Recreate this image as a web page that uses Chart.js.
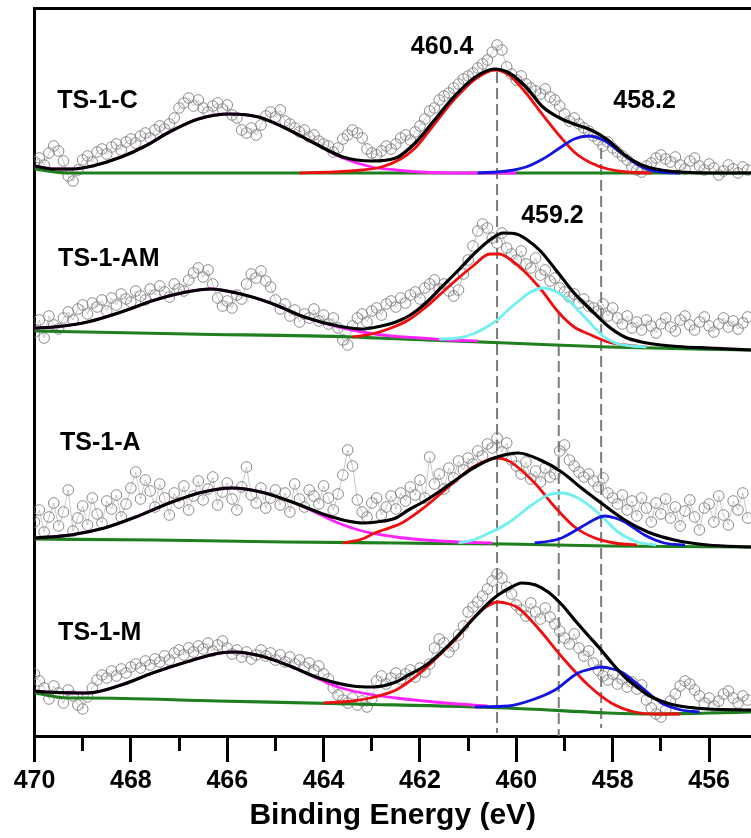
<!DOCTYPE html>
<html><head><meta charset="utf-8">
<script src="https://cdn.jsdelivr.net/npm/chart.js@4.4.1/dist/chart.umd.min.js"></script>
<style>html,body{margin:0;padding:0;background:#fff}</style>
</head><body><canvas id="c" width="751" height="838"></canvas>
<script>
// ---------- data ----------
const energies = [
470.0,469.9,469.8,469.7,469.6,469.5,469.4,469.3,469.2,469.1,
469.0,468.9,468.8,468.7,468.6,468.5,468.4,468.3,468.2,468.1,
468.0,467.9,467.8,467.7,467.6,467.5,467.4,467.3,467.2,467.1,
467.0,466.9,466.8,466.7,466.6,466.5,466.4,466.3,466.2,466.1,
466.0,465.9,465.8,465.7,465.6,465.5,465.4,465.3,465.2,465.1,
465.0,464.9,464.8,464.7,464.6,464.5,464.4,464.3,464.2,464.1,
464.0,463.9,463.8,463.7,463.6,463.5,463.4,463.3,463.2,463.1,
463.0,462.9,462.8,462.7,462.6,462.5,462.4,462.3,462.2,462.1,
462.0,461.9,461.8,461.7,461.6,461.5,461.4,461.3,461.2,461.1,
461.0,460.9,460.8,460.7,460.6,460.5,460.4,460.3,460.2,460.1,
460.0,459.9,459.8,459.7,459.6,459.5,459.4,459.3,459.2,459.1,
459.0,458.9,458.8,458.7,458.6,458.5,458.4,458.3,458.2,458.1,
458.0,457.9,457.8,457.7,457.6,457.5,457.4,457.3,457.2,457.1,
457.0,456.9,456.8,456.7,456.6,456.5,456.4,456.3,456.2,456.1,
456.0,455.9,455.8,455.7,455.6,455.5,455.4,455.3,455.2];

const ts1C_counts = [
574,578,571,583,590,585,575,560,555,566,
576,580,574,584,587,582,589,592,586,594,
597,593,600,603,598,606,610,607,612,618,
628,633,638,630,636,628,624,630,633,627,
631,621,618,606,603,608,601,611,620,624,
619,626,615,612,608,604,606,599,601,595,
592,590,584,588,597,601,606,603,598,587,
583,581,585,590,587,592,598,601,596,604,
610,617,625,628,636,640,643,648,652,657,
660,663,668,672,676,684,691,686,669,662,
656,660,652,648,645,642,647,639,636,630,
622,615,618,612,608,605,600,596,590,594,
588,584,580,576,569,566,564,570,573,578,
581,577,574,579,571,567,575,578,570,566,
572,568,561,565,571,567,563,569,566];

const ts1AM_counts = [
404,416,398,420,411,407,418,424,416,427,
431,422,433,429,436,425,438,431,442,437,
434,445,440,436,447,441,450,444,439,452,
447,445,456,463,468,459,466,452,438,430,
435,428,441,437,452,462,458,465,455,449,
436,427,432,420,426,414,422,418,427,415,
421,412,418,408,396,391,410,418,422,414,
425,428,421,432,435,429,438,433,441,444,
437,448,452,456,447,452,445,440,446,462,
476,490,505,512,508,498,493,503,488,482,
476,485,472,468,478,461,466,455,458,448,
444,439,442,433,437,430,428,425,432,420,
428,418,412,420,408,414,406,416,410,403,
412,418,409,405,416,420,411,406,414,419,
410,404,412,418,409,415,407,413,419];

const ts1A_counts = [
214,226,204,219,233,210,224,246,205,218,
230,211,238,222,213,235,227,241,219,232,
248,264,237,256,245,229,252,238,221,243,
233,250,226,240,255,236,247,259,231,244,
253,237,226,249,269,241,233,248,228,238,
246,231,243,224,252,237,229,246,240,232,
250,238,226,242,261,286,270,236,224,219,
233,238,221,229,240,227,243,235,249,241,
256,238,279,252,262,247,268,258,275,266,
278,272,285,280,292,288,298,284,293,276,
270,262,274,257,265,254,268,259,262,285,
291,276,270,264,259,262,255,249,258,243,
238,232,241,226,235,220,238,228,214,233,
222,237,218,229,210,225,236,219,206,228,
232,214,240,221,211,235,226,243,218];

const ts1M_counts = [
62,55,48,37,50,43,33,46,40,31,
27,39,48,56,61,58,65,60,67,63,
69,72,68,75,71,77,74,80,76,83,
86,81,88,84,90,87,93,85,91,95,
88,82,86,79,84,77,81,86,80,83,
76,81,74,79,72,76,69,73,66,70,
62,57,48,41,36,33,38,31,35,29,
37,55,60,52,58,63,57,62,66,59,
68,64,72,88,97,93,84,90,101,110,
124,129,134,140,147,155,162,158,149,142,
131,126,120,133,124,117,128,119,112,105,
98,92,102,88,80,85,73,66,60,56,
62,52,57,49,54,47,51,36,28,22,
19,26,35,42,50,55,52,46,40,33,
38,30,35,42,45,38,33,40,36];

// fitted curves: [binding energy, intensity]
const ts1C_background = [[470,567],[469.3,563],[455.13,563]];
const ts1C_satellite = [[470,570],[469.6,567],[469.2,567],[468.8,570],[468.2,579],[467.7,590],[467.2,604],[466.6,617],[465.95,622],[465.35,619],[464.8,608],[464.2,593],[463.6,578],[463.0,569],[462.5,566],[462.0,564],[461.0,563],[460.0,563]];
const ts1C_ti4604 = [[464.5,563],[463.8,564],[463.2,566],[462.8,569],[462.4,577],[462.1,588],[461.7,612],[461.3,636],[460.85,657],[460.45,666],[460.15,661],[459.8,643],[459.45,621],[459.1,600],[458.8,584],[458.45,573],[458.1,567],[457.7,564],[457.2,563]];
const ts1C_ti4582 = [[460.8,563],[460.2,565],[459.8,569],[459.45,577],[459.1,588],[458.8,597],[458.5,600],[458.2,596],[457.9,586],[457.6,575],[457.3,567],[457.0,564],[456.6,563]];
const ts1C_envelope = [[470,570],[469.6,567],[469.2,567],[468.8,570],[468.2,579],[467.7,590],[467.2,604],[466.6,617],[465.95,622],[465.35,619],[464.8,608],[464.2,593],[463.6,579],[463.0,575],[462.5,578],[462.1,593],[461.7,616],[461.3,639],[460.85,659],[460.45,667],[460.15,663],[459.8,649],[459.45,629],[459.1,618],[458.8,612],[458.45,606],[458.1,596],[457.75,581],[457.4,571],[457.0,566],[456.6,564],[456.0,563],[455.13,563]];

const ts1AM_background = [[470,405],[466.8,402],[463.4,399],[462.9,398],[460.2,393],[458.1,389],[455.13,386]];
const ts1AM_satellite = [[470,408],[469.6,409],[468.9,414],[468.2,424],[467.5,436],[466.85,444],[466.35,447],[465.8,443],[465.1,433],[464.4,419],[463.7,409],[463.2,404],[462.6,400],[462.0,398],[461.4,396],[460.8,395]];
const ts1AM_ti4604 = [[463.4,399],[463.0,402],[462.6,408],[462.24,416],[461.9,428],[461.55,443],[461.2,458],[460.9,470],[460.55,482],[460.35,482],[460.17,478],[459.82,464],[459.48,446],[459.13,424],[458.8,409],[458.45,401],[458.1,394],[457.75,391],[457.3,389]];
const ts1AM_ti4592 = [[461.6,397],[461.2,398],[460.9,402],[460.65,408],[460.4,416],[460.15,427],[459.9,437],[459.7,444],[459.45,448],[459.2,445],[458.95,437],[458.7,425],[458.45,412],[458.2,400],[457.95,393],[457.6,390],[457.3,389]];
const ts1AM_envelope = [[470,408],[469.6,409],[468.9,414],[468.2,424],[467.5,436],[466.85,444],[466.35,447],[465.8,443],[465.1,433],[464.4,419],[463.7,410],[463.2,407],[462.9,409],[462.5,414],[462.2,421],[461.9,432],[461.55,449],[461.2,466],[460.9,481],[460.55,496],[460.27,503],[460.0,502],[459.8,497],[459.5,485],[459.13,463],[458.8,443],[458.45,426],[458.1,410],[457.75,399],[457.4,394],[457.0,391],[456.5,389],[456.0,388],[455.13,386]];

const ts1A_background = [[470,197],[467.5,196],[464.8,194],[462.5,193],[460.2,192],[458.1,190],[455.13,189]];
const ts1A_satellite = [[470,198],[469.25,201],[468.55,208],[467.9,219],[467.2,233],[466.5,244],[465.9,248],[465.3,244],[464.6,233],[464.1,222],[463.7,213],[463.2,205],[462.5,199],[461.9,196],[461.2,194],[460.5,193]];
const ts1A_ti4604 = [[463.6,193],[463.2,197],[462.94,203],[462.38,213],[461.9,229],[461.41,249],[460.93,268],[460.6,276],[460.41,278],[460.2,276],[460.03,271],[459.62,253],[459.2,229],[458.79,209],[458.37,198],[457.96,193],[457.5,191]];
const ts1A_ti4592 = [[461.2,193],[460.9,196],[460.65,201],[460.17,213],[459.68,231],[459.34,241],[459.06,243],[458.72,238],[458.3,223],[457.89,204],[457.48,194],[457.1,191]];
const ts1A_ti4582 = [[459.62,193],[459.3,195],[459.06,198],[458.65,209],[458.4,216],[458.17,220],[457.95,218],[457.75,214],[457.34,201],[456.93,193],[456.5,191]];
const ts1A_envelope = [[470,198],[469.25,201],[468.55,208],[467.9,219],[467.2,233],[466.5,244],[465.9,248],[465.3,244],[464.6,233],[463.95,221],[463.5,215],[463.18,213],[462.9,214],[462.5,218],[462.24,226],[461.9,235],[461.55,246],[461.2,258],[460.86,269],[460.4,279],[459.96,283],[459.5,276],[459.06,264],[458.65,248],[458.24,233],[457.75,216],[457.27,204],[456.72,196],[456.03,191],[455.13,189]];

const ts1M_background = [[470,43],[469.3,38],[468.9,38],[466.2,35],[463.4,32],[460.2,28],[458.1,23],[457.2,22],[456.0,23],[455.13,24]];
const ts1M_satellite = [[470,45],[469.75,44],[468.9,43],[468.2,51],[467.55,63],[466.85,74],[466.15,83],[465.85,84],[465.3,80],[464.75,71],[464.1,57],[463.7,49],[463.2,43],[462.5,38],[461.9,35],[461.2,32],[460.6,30]];
const ts1M_ti4604 = [[464.0,33],[463.4,35],[462.94,39],[462.5,46],[462.24,54],[461.9,67],[461.55,83],[461.2,100],[460.93,116],[460.6,130],[460.38,134],[460.15,132],[459.96,128],[459.72,117],[459.48,104],[459.0,76],[458.51,51],[458.03,33],[457.55,24],[457.06,22],[456.6,22]];
const ts1M_ti4582 = [[460.86,29],[460.17,30],[459.68,36],[459.2,46],[458.72,63],[458.45,67],[458.24,69],[458.0,67],[457.82,64],[457.41,49],[456.99,33],[456.58,26],[456.2,24]];
const ts1M_envelope = [[470,45],[469.75,44],[468.9,43],[468.2,51],[467.55,63],[466.85,74],[466.15,83],[465.85,84],[465.3,80],[464.75,71],[464.1,58],[463.4,50],[462.97,49],[462.5,54],[462.24,61],[461.9,70],[461.55,84],[461.2,101],[460.86,119],[460.6,132],[460.38,141],[460.1,149],[459.89,153],[459.6,151],[459.34,144],[459.05,131],[458.79,116],[458.5,100],[458.24,86],[458.0,72],[457.75,59],[457.5,49],[457.27,41],[457.0,35],[456.72,31],[456.3,28],[456.03,27],[455.13,26]];

const sampleNames = ['TS-1-C','TS-1-AM','TS-1-A','TS-1-M'];
const peakLabels = ['460.4','458.2','459.2'];
// vertical guide lines: [energy, upper intensity, lower intensity]
const guideLines = [[460.4,664,3],[459.12,423,0],[458.24,588,8]];
const majorTicks = [470,468,466,464,462,460,458,456];
const energyLimits = [455.13, 470];
const intensityLimits = [0, 728];

// ---------- styling ----------
const FONT = '"Liberation Sans", Arial, Helvetica, sans-serif';
const COL = {counts:'#8a8a8a', countsLine:'#b0b0b0', bg:'#1f7f1f', sat:'#ff22ff', ti4:'#ee1010', ti3b:'#70f0f0', ti3:'#1414e0', env:'#000000', guide:'#7a7a7a'};

function xy(pairs){ return pairs.map(p => ({x:p[0], y:p[1]})); }
function curve(pairs, color, width, order){
  return {data: xy(pairs), borderColor: color, borderWidth: width, pointRadius: 0,
          fill: false, cubicInterpolationMode: 'monotone', order: order};
}

const panels = [
  {counts: ts1C_counts,  bg: ts1C_background,  sat: ts1C_satellite,  ti4: ts1C_ti4604,  ti3b: null,          ti3: ts1C_ti4582,  env: ts1C_envelope},
  {counts: ts1AM_counts, bg: ts1AM_background, sat: ts1AM_satellite, ti4: ts1AM_ti4604, ti3b: ts1AM_ti4592,  ti3: null,         env: ts1AM_envelope},
  {counts: ts1A_counts,  bg: ts1A_background,  sat: ts1A_satellite,  ti4: ts1A_ti4604,  ti3b: ts1A_ti4592,   ti3: ts1A_ti4582,  env: ts1A_envelope},
  {counts: ts1M_counts,  bg: ts1M_background,  sat: ts1M_satellite,  ti4: ts1M_ti4604,  ti3b: null,          ti3: ts1M_ti4582,  env: ts1M_envelope}
];

const datasets = [];
panels.forEach(p => {
  datasets.push({data: energies.map((e,i) => ({x:e, y:p.counts[i]})),
    borderColor: COL.countsLine, borderWidth: 0.7, tension: 0,
    pointRadius: 5.3, pointBorderWidth: 1, pointBorderColor: COL.counts,
    pointBackgroundColor: 'rgba(255,255,255,0)', order: 20});
  datasets.push(curve(p.bg, COL.bg, 3.2, 8));
  datasets.push(curve(p.sat, COL.sat, 2.8, 7));
  datasets.push(curve(p.ti4, COL.ti4, 2.8, 6));
  if (p.ti3b) datasets.push(curve(p.ti3b, COL.ti3b, 2.8, 5));
  if (p.ti3) datasets.push(curve(p.ti3, COL.ti3, 2.8, 4));
  datasets.push(curve(p.env, COL.env, 3.2, 1));
});
guideLines.forEach(g => datasets.push({data: [{x:g[0], y:g[1]}, {x:g[0], y:g[2]}],
  borderColor: COL.guide, borderWidth: 2, borderDash: [11,5], pointRadius: 0, order: 9}));

const textLabels = {
  id: 'textLabels',
  afterDatasetsDraw(chart, args, opts) {
    const {ctx} = chart; const x = chart.scales.x, y = chart.scales.y;
    ctx.save(); ctx.fillStyle = '#000'; ctx.textBaseline = 'middle';
    opts.items.forEach(it => {
      ctx.font = 'bold ' + it.size + 'px ' + FONT;
      ctx.textAlign = it.align;
      ctx.fillText(it.text, x.getPixelForValue(it.e), y.getPixelForValue(it.v));
    });
    ctx.restore();
  }
};

const noSidePadding = s => { s.paddingLeft = 0; s.paddingRight = 0; };

new Chart(document.getElementById('c'), {
  type: 'line',
  data: {datasets},
  options: {
    responsive: false, animation: false, events: [], devicePixelRatio: 1,
    layout: {autoPadding: false, padding: {top: 8, left: 0, right: 0, bottom: 0}},
    plugins: {
      legend: {display: false}, tooltip: {enabled: false},
      textLabels: {items: [
        {text: sampleNames[0], e: 469.53, v: 635, align: 'left', size: 25},
        {text: sampleNames[1], e: 469.51, v: 477, align: 'left', size: 25},
        {text: sampleNames[2], e: 469.47, v: 293, align: 'left', size: 25},
        {text: sampleNames[3], e: 469.51, v: 103, align: 'left', size: 25},
        {text: peakLabels[0], e: 461.54, v: 689, align: 'center', size: 25},
        {text: peakLabels[1], e: 457.34, v: 635, align: 'center', size: 25},
        {text: peakLabels[2], e: 459.25, v: 520, align: 'center', size: 25}
      ]}
    },
    scales: {
      x: {type: 'linear', reverse: true, min: energyLimits[0], max: energyLimits[1], position: 'bottom',
        afterFit: s => { s.height = 102; noSidePadding(s); },
        ticks: {stepSize: 1, includeBounds: false, autoSkip: false, maxRotation: 0, minRotation: 0, padding: 4,
          color: '#000', font: {family: FONT, size: 25, weight: 'bold'},
          callback: v => majorTicks.includes(Math.round(v)) ? String(Math.round(v)) : ''},
        grid: {drawOnChartArea: false, drawTicks: true, tickLength: 26, tickWidth: 3, tickColor: '#000',
          tickBorderDash: c => (c.tick && Math.round(c.tick.value) % 2 !== 0) ? [13, 60] : []},
        border: {display: true, width: 3, color: '#000'},
        title: {display: true, text: 'Binding Energy (eV)', color: '#000',
          font: {family: FONT, size: 30, weight: 'bold'}, padding: {top: 0, bottom: 4}}
      },
      xTop: {type: 'linear', reverse: true, min: energyLimits[0], max: energyLimits[1], position: 'top',
        afterFit: s => { s.height = 0; noSidePadding(s); },
        ticks: {display: false}, grid: {drawOnChartArea: false, drawTicks: false},
        border: {display: true, width: 3, color: '#000'}},
      y: {type: 'linear', min: intensityLimits[0], max: intensityLimits[1],
        afterFit: s => { s.width = 34.5; },
        ticks: {display: false}, grid: {drawOnChartArea: false, drawTicks: false},
        border: {display: true, width: 3, color: '#000'}}
    }
  },
  plugins: [textLabels]
});
</script></body></html>
